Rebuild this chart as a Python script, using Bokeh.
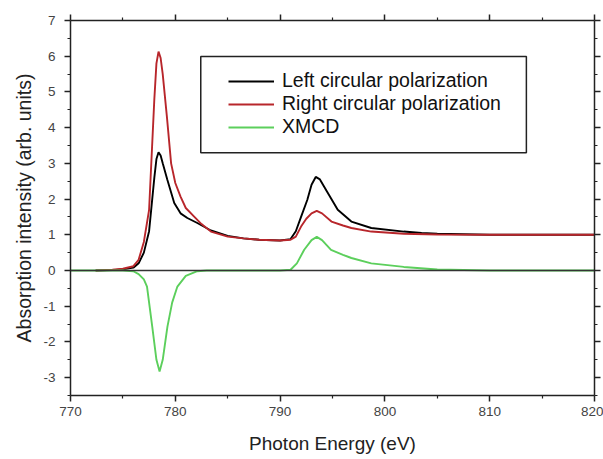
from bokeh.plotting import figure
from bokeh.models import (FixedTicker, LinearAxis, Span, Legend, LegendItem,
                          CustomJSTickFormatter, Range1d, BoxAnnotation)
from bokeh.embed import file_html
from bokeh.resources import INLINE

# ---- data ----
left_e = [772.4, 774, 775, 776, 776.5, 777, 777.5, 778, 778.2, 778.4, 778.6, 778.8, 779.24, 779.9,
          780.5, 781.15, 782.1, 783.4, 785, 786.5, 788, 790, 791, 791.5, 792, 792.6,
          793, 793.4, 793.8, 794.5, 795.5, 796.8, 798.7, 801.8, 803.5, 805, 810, 815, 820]
left_i = [0.0, 0.01, 0.03, 0.08, 0.2, 0.5, 1.1, 2.6, 3.12, 3.31, 3.22, 3.0, 2.54, 1.89,
          1.6, 1.47, 1.33, 1.12, 0.97, 0.9, 0.86, 0.84, 0.88, 1.1, 1.5, 1.98,
          2.4, 2.62, 2.55, 2.2, 1.7, 1.37, 1.19, 1.09, 1.05, 1.03, 1.0, 1.0, 1.0]

right_e = [772.4, 774, 775, 776, 776.5, 777, 777.5, 778, 778.2, 778.4, 778.6, 778.8, 779.2, 779.6,
           780.0, 780.5, 781, 781.8, 782.5, 783.4, 785, 786.5, 788, 790, 791, 791.5,
           792, 792.5, 793, 793.5, 794, 794.9, 796, 796.8, 798.7, 801.8, 805, 810, 815, 820]
right_i = [0.0, 0.02, 0.05, 0.12, 0.3, 0.8, 1.7, 4.8, 5.8, 6.13, 5.95, 5.5, 4.3, 3.0,
           2.45, 2.07, 1.75, 1.51, 1.3, 1.09, 0.95, 0.9, 0.86, 0.84, 0.86, 0.95,
           1.23, 1.45, 1.6, 1.67, 1.6, 1.37, 1.26, 1.19, 1.09, 1.03, 1.01, 1.0, 1.0, 1.0]

xmcd_e = [770, 775, 776, 776.5, 777, 777.3, 777.8, 778.2, 778.5, 778.8, 779.25, 779.7,
          780.2, 781, 782.1, 783, 790, 791, 791.6, 792.3, 793, 793.5, 794, 794.86,
          796, 796.8, 798.7, 801.8, 805, 810, 820]
xmcd_i = [0.0, 0.0, -0.02, -0.1, -0.25, -0.45, -1.57, -2.5, -2.83, -2.5, -1.57, -0.9,
          -0.45, -0.15, -0.02, 0.0, 0.0, 0.02, 0.2, 0.58, 0.85, 0.94, 0.85, 0.58,
          0.44, 0.35, 0.2, 0.1, 0.03, 0.0, 0.0]

x_ticks = [770, 780, 790, 800, 810, 820]
x_tick_labels = ["770", "780", "790", "800", "810", "820"]
x_minor = [775, 785, 795, 805, 815]
y_ticks = [-3, -2, -1, 0, 1, 2, 3, 4, 5, 6, 7]
y_tick_labels = ["-3", "-2", "-1", "0", "1", "2", "3", "4", "5", "6", "7"]
y_minor = [-3.5, -2.5, -1.5, -0.5, 0.5, 1.5, 2.5, 3.5, 4.5, 5.5, 6.5]

series_names = ["Left circular polarization", "Right circular polarization", "XMCD"]
colors = ["#000000", "#b8262b", "#5ccf5c"]

FONT = "Liberation Sans"
AX = "#222222"

p = figure(width=603, height=459, output_backend="svg", toolbar_location=None,
           x_range=Range1d(770, 820), y_range=Range1d(-3.5, 7),
           x_axis_label="Photon Energy (eV)",
           y_axis_label="Absorption intensity (arb. units)")
p.min_border_left = 70
p.min_border_right = 9
p.min_border_top = 20
p.min_border_bottom = 64
p.outline_line_color = None
p.background_fill_color = "white"
p.border_fill_color = "white"
p.xgrid.visible = False
p.ygrid.visible = False

def style_axis(ax, ticks, minor, labels=None):
    ax.ticker = FixedTicker(ticks=ticks, minor_ticks=minor)
    ax.axis_line_color = AX
    ax.axis_line_width = 1.5
    ax.major_tick_line_color = AX
    ax.minor_tick_line_color = AX
    ax.major_tick_line_width = 1.5
    ax.minor_tick_line_width = 1.2
    ax.major_tick_in = 0
    ax.major_tick_out = 6
    ax.minor_tick_in = 0
    ax.minor_tick_out = 3
    ax.major_label_text_font = FONT
    ax.major_label_text_font_size = "13.5px"
    ax.major_label_text_color = "#444444"
    ax.axis_label_text_font = FONT
    ax.axis_label_text_font_style = "normal"
    ax.axis_label_text_color = "#222222"
    if labels is None:
        ax.formatter = CustomJSTickFormatter(code="return ''")
        ax.major_label_standoff = 0
    else:
        ax.major_label_overrides = {t: l for t, l in zip(ticks, labels)}

style_axis(p.xaxis[0], x_ticks, x_minor, x_tick_labels)
style_axis(p.yaxis[0], y_ticks, y_minor, y_tick_labels)
p.xaxis[0].axis_label_text_font_size = "19px"
p.xaxis[0].major_label_standoff = 5
p.xaxis[0].axis_label_standoff = 14
p.yaxis[0].axis_label_text_font_size = "19.5px"
p.yaxis[0].major_label_standoff = 9
p.yaxis[0].axis_label_standoff = 5

top = LinearAxis()
style_axis(top, x_ticks, x_minor)
p.add_layout(top, "above")
right = LinearAxis()
style_axis(right, y_ticks, y_minor)
p.add_layout(right, "right")

p.add_layout(Span(location=0, dimension="width", line_color="#333333", line_width=1.5))

r_left = p.line(left_e, left_i, line_color=colors[0], line_width=1.9)
r_right = p.line(right_e, right_i, line_color=colors[1], line_width=1.9)
r_xmcd = p.line(xmcd_e, xmcd_i, line_color=colors[2], line_width=1.9)

# legend frame (drawn separately so the inner padding can be asymmetric)
p.add_layout(BoxAnnotation(left=782.43, right=813.5, bottom=3.3, top=5.99,
                           fill_color="white", fill_alpha=1.0,
                           line_color="#222222", line_alpha=1.0, line_width=1.5))

legend = Legend(items=[LegendItem(label=series_names[0], renderers=[r_left]),
                       LegendItem(label=series_names[1], renderers=[r_right]),
                       LegendItem(label=series_names[2], renderers=[r_xmcd])],
                location=(158, 257))
legend.label_text_font = FONT
legend.label_text_font_size = "19.5px"
legend.label_text_color = "#111111"
legend.border_line_color = None
legend.background_fill_alpha = 0
legend.padding = 13
legend.spacing = 0
legend.label_height = 20
legend.glyph_height = 20
legend.glyph_width = 46
legend.label_standoff = 8
legend.margin = 0
p.add_layout(legend, "center")

open("out.html", "w").write(file_html(p, INLINE))
